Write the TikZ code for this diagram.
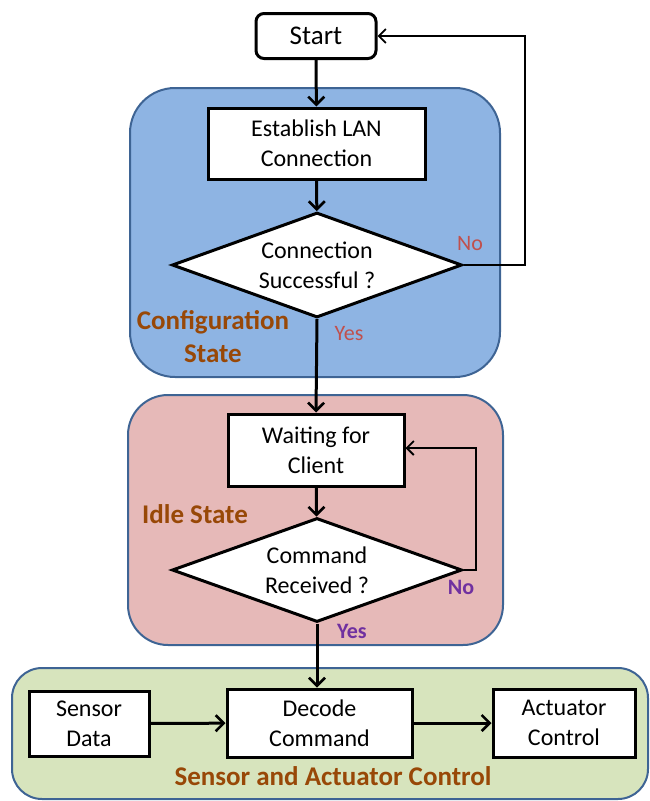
\documentclass[tikz,border=0pt]{standalone}
\usepackage{fontspec}
\setmainfont{Carlito}
\usetikzlibrary{shapes.geometric,arrows.meta}

\definecolor{cfgblue}{HTML}{8EB4E3}
\definecolor{idlepink}{HTML}{E6B9B8}
\definecolor{ctrlgreen}{HTML}{D7E4BD}
\definecolor{frameblue}{HTML}{3E6494}
\definecolor{statebrown}{HTML}{984807}
\definecolor{answerred}{HTML}{C0504D}
\definecolor{answerpurple}{HTML}{7030A0}

\tikzset{
  container/.style={draw=frameblue, line width=2pt, rectangle, inner sep=0pt},
  procbox/.style={draw=black, fill=white, line width=3pt, rectangle, inner sep=0pt,
    align=center, font=\fontsize{24}{30}\selectfont},
  decision/.style={draw=black, fill=white, line width=3pt, diamond, inner sep=0pt},
  decisiontext/.style={align=center, font=\fontsize{24}{30}\selectfont, inner sep=0pt},
  flow/.style={line width=3pt, -{Straight Barb[length=8pt,width=16pt,line width=2.6pt]}},
  loopback/.style={line width=1.8pt, -{Straight Barb[length=7pt,width=14pt,line width=1.8pt]}},
  statelabel/.style={text=statebrown, font=\bfseries\fontsize{27}{33}\selectfont, align=center, inner sep=0pt},
  noyes/.style={text=answerred, font=\fontsize{22}{26}\selectfont, inner sep=0pt},
  noyesbold/.style={text=answerpurple, font=\bfseries\fontsize{22}{26}\selectfont, inner sep=0pt}
}

\begin{document}
\begin{tikzpicture}[x=1pt,y=-1pt]
\useasboundingbox (0,0) rectangle (650,801);

% state containers
\node[container, fill=cfgblue, rounded corners=45pt, minimum width=370pt, minimum height=289pt] (cfgstate) at (315,232.5) {};
\node[container, fill=idlepink, rounded corners=40pt, minimum width=375pt, minimum height=250pt] (idlestate) at (315.5,520) {};
\node[container, fill=ctrlgreen, rounded corners=30pt, minimum width=636pt, minimum height=131pt] (ctrlstate) at (330,733.5) {};

% flow nodes
\node[procbox, rounded corners=8pt, minimum width=120pt, minimum height=45pt, font=\fontsize{27}{32}\selectfont] (start) at (316,36) {Start};
\node[procbox, minimum width=217pt, minimum height=71pt] (lan) at (316.5,143.5) {Establish LAN\\Connection};
\node[decision, minimum width=290pt, minimum height=105pt,
      label={[decisiontext]center:Connection\\Successful ?}] (conn) at (317,265) {};
\node[procbox, minimum width=176pt, minimum height=72pt] (wait) at (316,450) {Waiting for\\Client};
\node[decision, minimum width=290pt, minimum height=104pt,
      label={[decisiontext]center:Command\\Received ?}] (cmd) at (317,570) {};
\node[procbox, minimum width=185pt, minimum height=68pt] (decode) at (319.5,723) {Decode\\Command};
\node[procbox, minimum width=120pt, minimum height=65pt] (sensor) at (89,723.5) {Sensor\\Data};
\node[procbox, minimum width=142pt, minimum height=68pt] (act) at (564,723) {Actuator\\Control};

% state and answer labels
\node[statelabel] (cfglabel) at (213,337) {Configuration\\State};
\node[statelabel] (idlelabel) at (195,514) {Idle State};
\node[statelabel] (ctrllabel) at (333,776) {Sensor and Actuator Control};
\node[noyes] (no1) at (470,244) {No};
\node[noyes] (yes1) at (349,334) {Yes};
\node[noyesbold] (no2) at (461,587) {No};
\node[noyesbold] (yes2) at (352,631) {Yes};

% connectors
\coordinate (turn1) at (525,265);
\coordinate (turn2) at (476,570);
\draw[flow] (start) -- (lan);
\draw[flow] (lan) -- (conn);
\draw[flow] (conn.south) -- (wait.north);
\draw[flow] (wait) -- (cmd);
\draw[flow] (cmd.south) -- (cmd.south |- decode.north);
\draw[flow] (sensor) -- (decode);
\draw[flow] (decode) -- (act);
\draw[loopback] (conn.east) -- (turn1) |- (start.east);
\draw[loopback] (cmd.east) -- (turn2) |- ([yshift=2pt]wait.east);
\end{tikzpicture}
\end{document}
